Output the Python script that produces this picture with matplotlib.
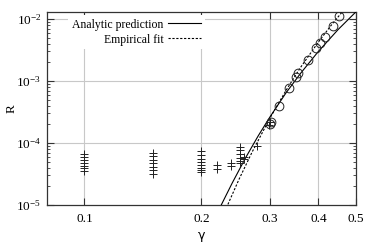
import numpy as np
import matplotlib
matplotlib.use('Agg')
import matplotlib.pyplot as plt
from matplotlib.ticker import FixedLocator, FixedFormatter, LogLocator, NullLocator

plt.rcParams['font.family'] = 'Liberation Serif'
plt.rcParams['mathtext.fontset'] = 'custom'
plt.rcParams['mathtext.rm'] = 'Liberation Serif'
plt.rcParams['mathtext.it'] = 'Liberation Serif:italic'

# Data
# plus markers (low-gamma runs)
plus_gamma = [0.1] * 7 + [0.15] * 7 + [0.2] * 8 + [0.219] * 2 + [0.239] * 2 \
    + [0.251] * 6 + [0.258] * 2 + [0.278, 0.298, 0.30]
plus_R = [6.6e-5, 5.9e-5, 5.3e-5, 4.7e-5, 4.3e-5, 3.9e-5, 3.5e-5,
          7.0e-5, 6.2e-5, 5.4e-5, 4.7e-5, 4.1e-5, 3.6e-5, 3.2e-5,
          7.3e-5, 6.4e-5, 5.6e-5, 4.9e-5, 4.4e-5, 4.0e-5, 3.7e-5, 3.4e-5,
          4.4e-5, 3.8e-5,
          4.8e-5, 4.2e-5,
          8.7e-5, 7.6e-5, 6.6e-5, 5.8e-5, 5.2e-5, 4.7e-5,
          6.0e-5, 5.5e-5,
          9.0e-5, 1.95e-4, 2.2e-4]

# open circles
circ_gamma = [0.30, 0.302, 0.316, 0.336, 0.351, 0.355, 0.376, 0.395, 0.403, 0.415, 0.435, 0.452]
circ_R = [2.05e-4, 2.2e-4, 4.0e-4, 7.8e-4, 1.17e-3, 1.33e-3, 2.18e-3, 3.37e-3, 4.06e-3,
          5.19e-3, 7.7e-3, 1.13e-2]

# analytic prediction curve
ana_gamma = [0.225, 0.24, 0.26, 0.28, 0.30, 0.33, 0.36, 0.40, 0.45, 0.50]
ana_R = [1.0e-5, 2.25e-5, 5.8e-5, 1.30e-4, 2.61e-4, 6.4e-4, 1.33e-3, 3.0e-3, 6.8e-3, 1.31e-2]

# empirical fit curve
fit_gamma = [0.234, 0.25, 0.27, 0.30, 0.33, 0.36, 0.40, 0.43, 0.461]
fit_R = [1.02e-5, 2.6e-5, 7.1e-5, 2.5e-4, 7.0e-4, 1.66e-3, 4.25e-3, 7.7e-3, 1.31e-2]

xticks = [0.1, 0.2, 0.3, 0.4, 0.5]
xtick_labels = ['0.1', '0.2', '0.3', '0.4', '0.5']

fig = plt.figure(figsize=(3.74, 2.49), dpi=100)
ax = fig.add_axes([0.125, 0.177, 0.827, 0.775])

grid_col = '#c8c8c8'
for g in [0.1, 0.2, 0.3, 0.4]:
    ax.axvline(g, color=grid_col, lw=0.8, zorder=1)
for r in [1e-4, 1e-3, 1e-2]:
    ax.axhline(r, color=grid_col, lw=0.8, zorder=1)

ax.plot(ana_gamma, ana_R, color='black', lw=0.8, label='Analytic prediction', zorder=3)
ax.plot(fit_gamma, fit_R, color='black', lw=0.8, ls=(0, (2, 1.5)), label='Empirical fit', zorder=3)
ax.plot(plus_gamma, plus_R, ls='none', marker='+', ms=6, mew=0.7, color='#222222', zorder=3)
ax.plot(circ_gamma, circ_R, ls='none', marker='o', ms=6.3, mew=0.7, mfc='none', mec='#222222', zorder=3)

ax.set_xscale('log')
ax.set_yscale('log')
ax.set_xlim(0.08, 0.5)
ax.set_ylim(1e-5, 1.3e-2)

ax.xaxis.set_major_locator(FixedLocator(xticks))
ax.xaxis.set_major_formatter(FixedFormatter(xtick_labels))
ax.xaxis.set_minor_locator(NullLocator())
ax.yaxis.set_major_locator(LogLocator(base=10))
ax.yaxis.set_minor_locator(LogLocator(base=10, subs=np.arange(2, 10)))

ax.tick_params(which='both', direction='in', top=True, right=True, color='#333333')
ax.tick_params(axis='x', labelsize=9.5, pad=6)
ax.tick_params(axis='y', labelsize=9.5, pad=4)
ax.tick_params(which='major', length=5, width=0.8)
ax.tick_params(which='minor', length=2.5, width=0.6)
for s in ax.spines.values():
    s.set_color('#333333')
    s.set_linewidth(0.9)

ax.set_xlabel('γ', family='DejaVu Sans', fontsize=9, labelpad=3)
ax.set_ylabel('R', fontsize=9.5)
ax.yaxis.set_label_coords(-0.093, 0.5)

leg = ax.legend(loc='upper left', bbox_to_anchor=(0.066, 0.99), markerfirst=False,
                frameon=True, fontsize=8.5, handlelength=2.8, handletextpad=0.4,
                labelspacing=0.25, borderaxespad=0.1, borderpad=0.3)
leg.get_frame().set_edgecolor('none')
leg.get_frame().set_facecolor('white')
leg.get_frame().set_alpha(1.0)
for t in leg.get_texts():
    t.set_ha('right')
leg._legend_box.align = 'right'
leg.set_zorder(2)

fig.savefig('out.png', dpi=100)
